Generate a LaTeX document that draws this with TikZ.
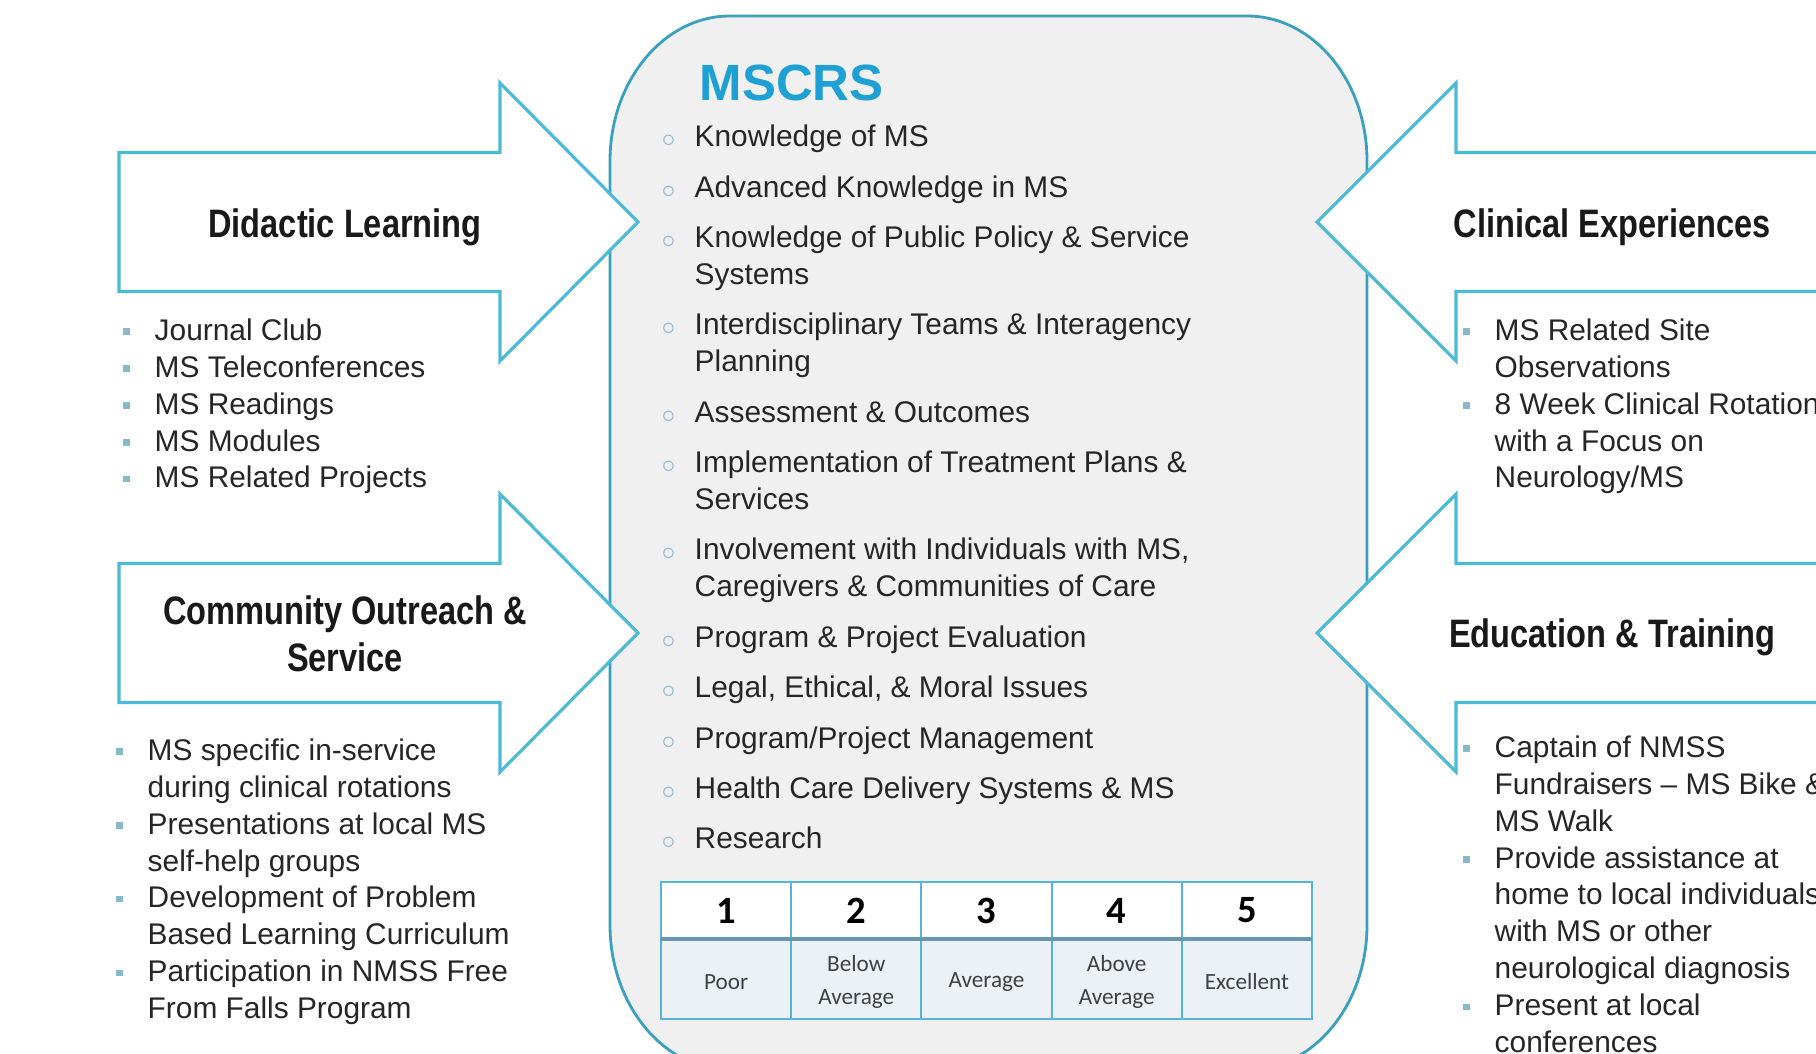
\documentclass[tikz,border=0pt]{standalone}
\usepackage{fontspec}
\setmainfont{Liberation Sans}
\newfontfamily\headfont[FakeStretch=0.82]{Liberation Sans}
\newfontfamily\tabfont{Carlito}
\usepackage{xcolor}
\definecolor{arrcyan}{RGB}{75,186,214}
\definecolor{boxteal}{RGB}{58,160,190}
\definecolor{boxgray}{RGB}{240,240,240}
\definecolor{titblue}{RGB}{30,160,212}
\definecolor{txtgray}{RGB}{38,38,38}
\definecolor{dotgray}{RGB}{135,185,200}
\definecolor{ringblue}{RGB}{150,185,208}
\definecolor{tabblue}{RGB}{84,180,220}
\definecolor{tabmed}{RGB}{105,150,175}
\definecolor{tabcl}{RGB}{236,241,246}
\usepackage{tikz}
\newcommand{\sqbul}{\llap{\textcolor{dotgray}{\rule[0.35ex]{0.65mm}{0.65mm}}\hspace{2.5mm}}}
\newcommand{\ringbul}{\llap{\textcolor{ringblue}{\fontsize{7}{8}\selectfont$\circ$}\hspace{1.9mm}}}
\tikzset{
    bigarrow/.style={fill=white, draw=arrcyan, line width=0.9pt, line join=miter},
    headtitle/.style={font=\headfont\bfseries\fontsize{11.3}{13.5}\selectfont, text=black!90, align=center, inner sep=0pt},
    itemtxt/.style={font=\fontsize{8.5}{10.5}\selectfont, text=txtgray, align=left, anchor=north west, inner sep=0pt, execute at begin node=\strut},
    tabnum/.style={font=\tabfont\bfseries\fontsize{11}{13}\selectfont, inner sep=0pt},
    tablab/.style={font=\tabfont\fontsize{6.6}{9.5}\selectfont, text=black!75, align=center, inner sep=0pt}
}

\begin{document}
\begin{tikzpicture}
        \useasboundingbox (0,0) rectangle (18.16,10.53);
        \clip (0,0) rectangle (18.16,10.53);
        \fill[white] (0,0) rectangle (18.16,10.53);
        % central panel
        \filldraw[fill=boxgray, draw=boxteal, line width=0.8pt] (6.10,1.28) -- (6.10,8.92)
            arc[start angle=180, end angle=90, x radius=1.2, y radius=1.45] -- (12.47,10.37)
            arc[start angle=90, end angle=0, x radius=1.2, y radius=1.45] -- (13.67,1.28)
            arc[start angle=0, end angle=-90, x radius=1.2, y radius=1.45] -- (7.30,-0.17)
            arc[start angle=270, end angle=180, x radius=1.2, y radius=1.45] -- cycle;
        % arrows
        \filldraw[bigarrow] (1.19,9.005) -- (5.00,9.005) -- (5.00,9.70) -- (6.38,8.31) -- (5.00,6.92) -- (5.00,7.615) -- (1.19,7.615) -- cycle;
        \filldraw[bigarrow] (1.19,4.895) -- (5.00,4.895) -- (5.00,5.59) -- (6.38,4.20) -- (5.00,2.81) -- (5.00,3.505) -- (1.19,3.505) -- cycle;
        \filldraw[bigarrow] (18.6,9.005) -- (14.56,9.005) -- (14.56,9.70) -- (13.17,8.31) -- (14.56,6.92) -- (14.56,7.615) -- (18.6,7.615) -- cycle;
        \filldraw[bigarrow] (18.6,4.895) -- (14.56,4.895) -- (14.56,5.59) -- (13.17,4.20) -- (14.56,2.81) -- (14.56,3.505) -- (18.6,3.505) -- cycle;
        \node[headtitle] (didactic) at (3.45,8.26) {Didactic Learning};
        \node[headtitle] (community) at (3.45,4.19) {Community Outreach \&\\ Service};
        \node[headtitle] (clinical) at (16.12,8.26) {Clinical Experiences};
        \node[headtitle] (education) at (16.12,4.16) {Education \& Training};
        % lists
        \node[itemtxt] (didlist) at (1.54,7.35) {\sqbul Journal Club\\ \sqbul MS Teleconferences\\ \sqbul MS Readings\\ \sqbul MS Modules\\ \sqbul MS Related Projects};
        \node[itemtxt] (comlist) at (1.47,3.15) {\sqbul MS specific in-service\\ during clinical rotations\\ \sqbul Presentations at local MS\\ self-help groups\\ \sqbul Development of Problem\\ Based Learning Curriculum\\ \sqbul Participation in NMSS Free\\ From Falls Program};
        \node[itemtxt] (clilist) at (14.94,7.35) {\sqbul MS Related Site\\ Observations\\ \sqbul 8 Week Clinical Rotation\\ with a Focus on\\ Neurology/MS};
        \node[itemtxt] (edulist) at (14.94,3.18) {\sqbul Captain of NMSS\\ Fundraisers -- MS Bike \&\\ MS Walk\\ \sqbul Provide assistance at\\ home to local individuals\\ with MS or other\\ neurological diagnosis\\ \sqbul Present at local\\ conferences};
        % MSCRS
        \node[font=\bfseries\fontsize{14.5}{17}\selectfont, text=titblue, anchor=west, inner sep=0pt] (mscrs) at (6.99,9.70) {MSCRS};
        \node[itemtxt] (mscrslist) at (6.94,9.285) {\ringbul Knowledge of MS\\[1.35mm]
            \ringbul Advanced Knowledge in MS\\[1.35mm]
            \ringbul Knowledge of Public Policy \& Service\\ Systems\\[1.35mm]
            \ringbul Interdisciplinary Teams \& Interagency\\ Planning\\[1.35mm]
            \ringbul Assessment \& Outcomes\\[1.35mm]
            \ringbul Implementation of Treatment Plans \&\\ Services\\[1.35mm]
            \ringbul Involvement with Individuals with MS,\\ Caregivers \& Communities of Care\\[1.35mm]
            \ringbul Program \& Project Evaluation\\[1.35mm]
            \ringbul Legal, Ethical, \& Moral Issues\\[1.35mm]
            \ringbul Program/Project Management\\[1.35mm]
            \ringbul Health Care Delivery Systems \& MS\\[1.35mm]
            \ringbul Research};
        % rating table
        \fill[white] (6.61,1.14) rectangle (13.12,1.71);
        \fill[tabcl] (6.61,0.34) rectangle (13.12,1.14);
        \foreach \x in {7.912,9.214,10.516,11.818}
            \draw[tabblue, line width=0.6pt] (\x,0.34) -- (\x,1.71);
        \draw[tabblue, line width=0.7pt] (6.61,0.34) rectangle (13.12,1.71);
        \draw[tabmed, line width=1pt] (6.61,1.14) -- (13.12,1.14);
        \foreach \n/\lab in {1/Poor, 2/{Below\\ Average}, 3/Average, 4/{Above\\ Average}, 5/Excellent}{
            \node[tabnum] (num\n) at ({6.61+(\n-0.5)*1.302},1.425) {\n};
            \node[tablab] (lab\n) at ({6.61+(\n-0.5)*1.302},0.71) {\lab};
        }
    \end{tikzpicture}
\end{document}
